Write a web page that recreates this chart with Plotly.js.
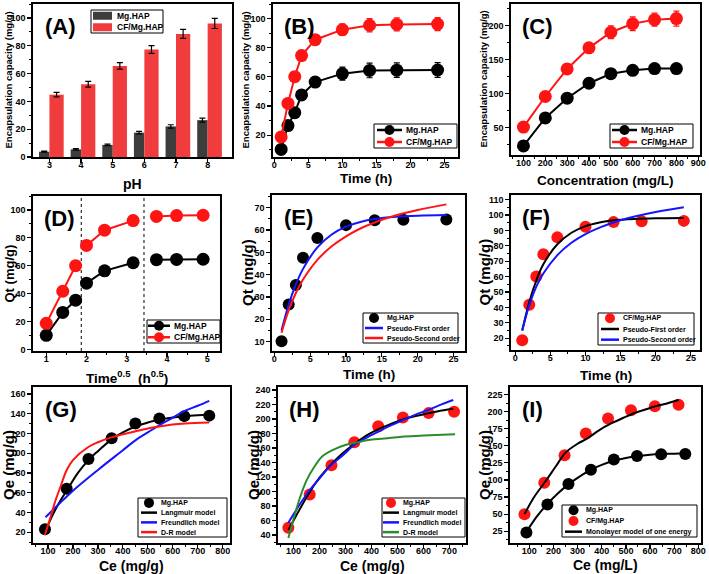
<!DOCTYPE html>
<html><head><meta charset="utf-8">
<script src="https://cdn.plot.ly/plotly-3.0.1.min.js"></script>
<style>html,body{margin:0;padding:0;background:#fff}#chart{width:709px;height:574px}</style>
</head><body><div id="chart"></div>
<script>
// ---------- DATA ----------
// (A) pH effect
const pH = [3, 4, 5, 6, 7, 8];
const encMgPH = [3.8, 5.5, 8.7, 17.5, 22.0, 26.5];
const encMgPHErr = [0.4, 0.5, 0.5, 0.9, 1.2, 1.4];
const encCFPH = [44.8, 52.3, 65.5, 77.3, 88.5, 96.0];
const encCFPHErr = [1.6, 2.0, 2.3, 2.8, 3.2, 3.6];
// (B) contact time
const time = [1, 2, 3, 4, 6, 10, 14, 18, 24];
const qtMg = [10.2, 26.6, 35.4, 47.6, 56.4, 62.2, 64.4, 64.6, 64.7];
const qtMgErr = [1.2, 1.8, 2.0, 2.5, 3.0, 4.5, 5.0, 5.0, 5.0];
const qtCF = [18.8, 41.8, 60.1, 74.6, 85.5, 92.4, 95.4, 96.0, 96.2];
const qtCFErr = [1.2, 1.8, 2.2, 3.0, 3.5, 4.0, 4.5, 4.5, 4.5];
// (C) concentration
const conc = [100, 200, 300, 400, 500, 600, 700, 800];
const ecMg = [23.4, 64.5, 93.5, 115.5, 129.5, 134.5, 137, 137];
const ecMgErr = [2, 3, 3.5, 4, 4, 4, 4, 4];
const ecCF = [51, 96, 136.5, 167.5, 190.5, 203, 209, 210.5];
const ecCFErr = [2.5, 3.5, 4.5, 6, 9.5, 10, 9.5, 11];
// (D) intraparticle diffusion
const sqrtTime = [1, 1.41, 1.73, 2, 2.45, 3.16, 3.74, 4.24, 4.90];
const stage = [0, 0, 0, 1, 1, 1, 2, 2, 2];
const stageBounds = [1.87, 3.43];
// (E) kinetic fits Mg.HAP
const fitT = [1, 2, 3, 4, 6, 8, 10, 12, 14, 17, 20, 24];
const pfoMg = [15, 26.6, 35.6, 42.6, 52.2, 58, 61.5, 63.6, 64.9, 65.9, 66.4, 66.7];
const psoMg = [14, 24.1, 31.8, 37.8, 46.6, 52.7, 57.2, 60.7, 63.4, 66.6, 69, 71.5];
// (F) kinetic fits CF/Mg.HAP
const pfoCF = [25, 43.5, 57.5, 68, 81, 88.5, 92.8, 95.2, 96.6, 97.5, 97.9, 98.1];
const psoCF = [25, 41.5, 53.5, 62, 74, 82, 87.6, 91.8, 95.2, 99, 102, 105];
// isotherm points
const ceMg = [88, 175, 262, 355, 450, 546, 646, 746];
const qeMg = [23, 64, 94, 115, 130, 135, 137.5, 138];
const ceCF = [80, 162, 246, 334, 426, 521, 620, 718];
const qeCF = [50, 96, 136, 168, 190, 202, 208, 210];
// (G) model curves Mg.HAP
const gLangX = [88, 120, 150, 175, 220, 262, 300, 355, 400, 450, 500, 546, 600, 646, 700, 746];
const gLangY = [20, 38, 52, 62, 80, 93, 102, 114, 121, 127, 131, 134, 136, 137.5, 138.5, 139];
const gFreuX = [90, 150, 200, 300, 400, 450, 500, 550, 600, 650, 700, 746];
const gFreuY = [35, 50, 62, 83, 103, 113, 121, 129, 136, 143, 148, 153];
const gDRX = [87, 110, 130, 150, 175, 200, 260, 300, 354, 400, 448, 500, 546, 600, 650, 746];
const gDRY = [17, 35, 52, 66, 83, 93, 106, 111, 116, 119, 122, 125, 127, 129, 130, 131];
// (H) model curves
const hLangX = [80, 100, 158, 200, 241, 290, 333, 380, 427, 475, 523, 570, 623, 670, 715];
const hLangY = [47, 60, 97, 119, 136, 153, 165, 177, 186, 193, 199.5, 204, 208, 211.5, 214];
const hFreuX = [80, 120, 158, 200, 241, 290, 333, 380, 427, 475, 523, 570, 623, 670, 715];
const hFreuY = [57, 80, 100, 118, 135, 150, 164, 174, 182.5, 191, 198.6, 206, 213, 220, 226];
const hDRX = [80, 100, 125, 151, 180, 209, 250, 299, 350, 388, 450, 517, 600, 722];
const hDRY = [36, 62, 92, 116, 134, 148, 157, 164, 168, 171, 173, 175.6, 177, 179];
// (I) monolayer model
const iMgX = [88, 130, 175, 220, 262, 300, 355, 400, 450, 500, 548, 600, 645, 700, 748];
const iMgY = [24, 46, 65, 81, 93.5, 103, 115, 122, 128, 132, 135, 137, 138, 138.5, 139];
const iCFX = [80, 120, 165, 210, 250, 300, 337, 390, 441, 490, 526, 580, 624, 670, 718];
const iCFY = [50, 75, 97, 120, 140, 153, 160, 173, 183, 191, 196.5, 203, 208, 212, 217];

// ---------- STYLE ----------
const W = 709, H = 574;
const FONT = '"Liberation Sans", Arial, sans-serif';
const RED = '#ff1414', BLUE = '#1414ff', GREEN = '#2a8c2a', GREY = '#3d3d3d', BARRED = '#f03c3c';
const px = v => v / W, py = v => 1 - v / H;

function dom(x0, x1, y0, y1) { return {x: [px(x0), px(x1)], y: [py(y1), py(y0)], l: x0, r: x1, t: y0, b: y1}; }
const P = {
  A: dom(33, 232, 4, 157), B: dom(273, 458, 4, 157), C: dom(511, 700, 4, 155),
  D: dom(33, 220, 196, 351), E: dom(272, 465, 195, 351), F: dom(511, 700, 195, 350),
  G: dom(33, 230, 387, 543), H: dom(278, 466, 387, 543), I: dom(510, 701, 387, 543)
};
function axis(d, isX, range, dtick, mdtick, anchor, extra) {
  const a = {
    domain: isX ? d.x : d.y, range: range, dtick: dtick, ticks: 'outside', ticklen: 4, tickwidth: 1.2, tickcolor: '#000',
    showline: true, mirror: true, linewidth: 1.6, linecolor: '#000', showgrid: false, zeroline: false,
    tickfont: {family: FONT, size: 9, color: '#000', weight: 'bold'}, ticklabelstandoff: isX ? -5 : 0,
    anchor: anchor, automargin: false
  };
  if (mdtick) a.minor = {ticks: 'outside', ticklen: 2.5, dtick: mdtick, tickwidth: 1, tickcolor: '#000'};
  return Object.assign(a, extra || {});
}
function err(arr, color) { return {type: 'data', array: arr, visible: true, color: color, thickness: 1.2, width: 3}; }
function withGaps(xs, ys, groups) {
  const X = [], Y = [];
  xs.forEach((x, i) => {
    if (i > 0 && groups[i] !== groups[i - 1]) { X.push(null); Y.push(null); }
    X.push(x); Y.push(ys[i]);
  });
  return [X, Y];
}

const traces = [];
const sc = (o) => Object.assign({type: 'scatter', showlegend: false}, o);
// (A)
traces.push({type: 'bar', x: pH, y: encMgPH, width: 0.33, offset: -0.33, name: 'Mg.HAP', showlegend: false,
  marker: {color: GREY}, error_y: err(encMgPHErr, '#000'), xaxis: 'x', yaxis: 'y'});
traces.push({type: 'bar', x: pH, y: encCFPH, width: 0.45, offset: 0, name: 'CF/Mg.HAP', showlegend: false,
  marker: {color: BARRED}, error_y: err(encCFPHErr, '#000'), xaxis: 'x', yaxis: 'y'});
// (B)
traces.push(sc({mode: 'lines+markers', x: time, y: qtMg, name: 'Mg.HAP', line: {color: '#000', width: 2},
  marker: {color: '#000', size: 13}, error_y: err(qtMgErr, '#000'), xaxis: 'x2', yaxis: 'y2'}));
traces.push(sc({mode: 'lines+markers', x: time, y: qtCF, name: 'CF/Mg.HAP', line: {color: RED, width: 2},
  marker: {color: RED, size: 13}, error_y: err(qtCFErr, RED), xaxis: 'x2', yaxis: 'y2'}));
// (C)
traces.push(sc({mode: 'lines+markers', x: conc, y: ecMg, name: 'Mg.HAP', line: {color: '#000', width: 2},
  marker: {color: '#000', size: 13}, error_y: err(ecMgErr, '#000'), xaxis: 'x3', yaxis: 'y3'}));
traces.push(sc({mode: 'lines+markers', x: conc, y: ecCF, name: 'CF/Mg.HAP', line: {color: RED, width: 2},
  marker: {color: RED, size: 13}, error_y: err(ecCFErr, RED), xaxis: 'x3', yaxis: 'y3'}));
// (D)
const dMg = withGaps(sqrtTime, qtMg, stage), dCF = withGaps(sqrtTime, qtCF, stage);
traces.push(sc({mode: 'lines+markers', x: dMg[0], y: dMg[1], name: 'Mg.HAP', connectgaps: false,
  line: {color: '#000', width: 2}, marker: {color: '#000', size: 13}, xaxis: 'x4', yaxis: 'y4'}));
traces.push(sc({mode: 'lines+markers', x: dCF[0], y: dCF[1], name: 'CF/Mg.HAP', connectgaps: false,
  line: {color: RED, width: 2}, marker: {color: RED, size: 13}, xaxis: 'x4', yaxis: 'y4'}));
// (E)
traces.push(sc({mode: 'markers', x: time, y: qtMg, name: 'Mg.HAP', marker: {color: '#000', size: 12}, xaxis: 'x5', yaxis: 'y5'}));
traces.push(sc({mode: 'lines', x: fitT, y: pfoMg, name: 'Pseudo-First order', line: {color: BLUE, width: 2, shape: 'spline'}, xaxis: 'x5', yaxis: 'y5'}));
traces.push(sc({mode: 'lines', x: fitT, y: psoMg, name: 'Pseudo-Second order', line: {color: RED, width: 2, shape: 'spline'}, xaxis: 'x5', yaxis: 'y5'}));
// (F)
traces.push(sc({mode: 'markers', x: time, y: qtCF, name: 'CF/Mg.HAP', marker: {color: RED, size: 12}, xaxis: 'x6', yaxis: 'y6'}));
traces.push(sc({mode: 'lines', x: fitT, y: pfoCF, name: 'Pseudo-First order', line: {color: '#000', width: 2, shape: 'spline'}, xaxis: 'x6', yaxis: 'y6'}));
traces.push(sc({mode: 'lines', x: fitT, y: psoCF, name: 'Pseudo-Second order', line: {color: BLUE, width: 2, shape: 'spline'}, xaxis: 'x6', yaxis: 'y6'}));
// (G)
traces.push(sc({mode: 'markers', x: ceMg, y: qeMg, name: 'Mg.HAP', marker: {color: '#000', size: 12}, xaxis: 'x7', yaxis: 'y7'}));
traces.push(sc({mode: 'lines', x: gLangX, y: gLangY, name: 'Langmuir model', line: {color: '#000', width: 2, shape: 'spline'}, xaxis: 'x7', yaxis: 'y7'}));
traces.push(sc({mode: 'lines', x: gFreuX, y: gFreuY, name: 'Freundlich model', line: {color: BLUE, width: 2, shape: 'spline'}, xaxis: 'x7', yaxis: 'y7'}));
traces.push(sc({mode: 'lines', x: gDRX, y: gDRY, name: 'D-R model', line: {color: RED, width: 2, shape: 'spline'}, xaxis: 'x7', yaxis: 'y7'}));
// (H)
traces.push(sc({mode: 'markers', x: ceCF, y: qeCF, name: 'Mg.HAP', marker: {color: RED, size: 12}, xaxis: 'x8', yaxis: 'y8'}));
traces.push(sc({mode: 'lines', x: hLangX, y: hLangY, name: 'Langmuir model', line: {color: '#000', width: 2, shape: 'spline'}, xaxis: 'x8', yaxis: 'y8'}));
traces.push(sc({mode: 'lines', x: hFreuX, y: hFreuY, name: 'Freundlich model', line: {color: BLUE, width: 2, shape: 'spline'}, xaxis: 'x8', yaxis: 'y8'}));
traces.push(sc({mode: 'lines', x: hDRX, y: hDRY, name: 'D-R model', line: {color: GREEN, width: 2, shape: 'spline'}, xaxis: 'x8', yaxis: 'y8'}));
// (I)
traces.push(sc({mode: 'markers', x: ceMg, y: qeMg, name: 'Mg.HAP', marker: {color: '#000', size: 12}, xaxis: 'x9', yaxis: 'y9'}));
traces.push(sc({mode: 'markers', x: ceCF, y: qeCF, name: 'CF/Mg.HAP', marker: {color: RED, size: 12}, xaxis: 'x9', yaxis: 'y9'}));
traces.push(sc({mode: 'lines', x: iMgX, y: iMgY, name: 'Monolayer model of one energy', line: {color: '#000', width: 2, shape: 'spline'}, xaxis: 'x9', yaxis: 'y9'}));
traces.push(sc({mode: 'lines', x: iCFX, y: iCFY, name: 'Monolayer model of one energy', line: {color: '#000', width: 2, shape: 'spline'}, xaxis: 'x9', yaxis: 'y9'}));

// ---------- LEGENDS (drawn as boxes) ----------
const shapes = [], annotations = [];
function legendBox(box, lineX0, lineX1, textX, fs, entries) {
  shapes.push({type: 'rect', xref: 'paper', yref: 'paper', x0: px(box[0]), x1: px(box[2]), y0: py(box[3]), y1: py(box[1]),
    line: {color: '#000', width: 1}, fillcolor: '#fff', layer: 'above'});
  const rowH = (box[3] - box[1]) / entries.length;
  entries.forEach((e, i) => {
    const cy = box[1] + rowH * (i + 0.5), cx = (lineX0 + lineX1) / 2;
    if (e.kind === 'square') {
      shapes.push({type: 'rect', xref: 'paper', yref: 'paper', x0: px(lineX0), x1: px(lineX1), y0: py(cy + 4), y1: py(cy - 4),
        line: {width: 0}, fillcolor: e.color, layer: 'above'});
    }
    if (e.kind === 'line' || e.kind === 'linemarker') {
      shapes.push({type: 'line', xref: 'paper', yref: 'paper', x0: px(lineX0), x1: px(lineX1), y0: py(cy), y1: py(cy),
        line: {color: e.color, width: 2.5}, layer: 'above'});
    }
    if (e.kind === 'marker' || e.kind === 'linemarker') {
      const r = 5;
      shapes.push({type: 'circle', xref: 'paper', yref: 'paper', x0: px(cx - r), x1: px(cx + r), y0: py(cy + r), y1: py(cy - r),
        line: {width: 0}, fillcolor: e.color, layer: 'above'});
    }
    annotations.push({text: e.label, xref: 'paper', yref: 'paper', x: px(textX), y: py(cy), xanchor: 'left', yanchor: 'middle',
      showarrow: false, font: {family: FONT, size: fs, color: '#000', weight: 'bold'}});
  });
}
legendBox([91, 10, 163, 33], 93, 112, 115, 8.5, [
  {label: 'Mg.HAP', color: GREY, kind: 'square'}, {label: 'CF/Mg.HAP', color: BARRED, kind: 'square'}]);
legendBox([374, 124, 457, 148], 377, 402, 404, 8.5, [
  {label: 'Mg.HAP', color: '#000', kind: 'linemarker'}, {label: 'CF/Mg.HAP', color: RED, kind: 'linemarker'}]);
legendBox([610, 124, 693, 148], 612, 637, 639, 8.5, [
  {label: 'Mg.HAP', color: '#000', kind: 'linemarker'}, {label: 'CF/Mg.HAP', color: RED, kind: 'linemarker'}]);
legendBox([147, 320, 220, 343], 148, 170, 172, 8.5, [
  {label: 'Mg.HAP', color: '#000', kind: 'linemarker'}, {label: 'CF/Mg.HAP', color: RED, kind: 'linemarker'}]);
legendBox([363, 313, 458, 343], 365, 383, 385, 7, [
  {label: 'Mg.HAP', color: '#000', kind: 'marker'}, {label: 'Pseudo-First order', color: BLUE, kind: 'line'},
  {label: 'Pseudo-Second order', color: RED, kind: 'line'}]);
legendBox([598, 313, 694, 345], 601, 619, 621, 7, [
  {label: 'CF/Mg.HAP', color: RED, kind: 'marker'}, {label: 'Pseudo-First order', color: '#000', kind: 'line'},
  {label: 'Pseudo-Second order', color: BLUE, kind: 'line'}]);
legendBox([138, 498, 227, 537], 141, 157, 159, 7, [
  {label: 'Mg.HAP', color: '#000', kind: 'marker'}, {label: 'Langmuir model', color: '#000', kind: 'line'},
  {label: 'Freundlich model', color: BLUE, kind: 'line'}, {label: 'D-R model', color: RED, kind: 'line'}]);
legendBox([382, 498, 465, 537], 383, 399, 401, 7, [
  {label: 'Mg.HAP', color: RED, kind: 'marker'}, {label: 'Langmuir model', color: '#000', kind: 'line'},
  {label: 'Freundlich model', color: BLUE, kind: 'line'}, {label: 'D-R model', color: GREEN, kind: 'line'}]);
legendBox([562, 505, 697, 537], 565, 582, 584, 7, [
  {label: 'Mg.HAP', color: '#000', kind: 'marker'}, {label: 'CF/Mg.HAP', color: RED, kind: 'marker'},
  {label: 'Monolayer model of one energy', color: '#000', kind: 'line'}]);

// D stage boundaries
stageBounds.forEach(b => shapes.push({type: 'line', xref: 'x4', yref: 'y4 domain', x0: b, x1: b, y0: 0, y1: 1,
  line: {color: '#000', width: 1, dash: 'dot'}, layer: 'below'}));

// panel labels
[['A', ''], ['B', '2'], ['C', '3'], ['D', '4'], ['E', '5'], ['F', '6'], ['G', '7'], ['H', '8'], ['I', '9']].forEach(([lab, n]) =>
  annotations.push({text: '(' + lab + ')', xref: 'x' + n + ' domain', yref: 'y' + n + ' domain', x: 0.05, y: 0.95,
    xanchor: 'left', yanchor: 'top', showarrow: false, font: {family: FONT, size: 22, color: '#000', weight: 'bold'}}));

// axis titles
function xTitle(d, text, cy, fs) {
  annotations.push({text: text, xref: 'paper', yref: 'paper', x: px((d.l + d.r) / 2), y: py(cy), xanchor: 'center', yanchor: 'middle',
    showarrow: false, font: {family: FONT, size: fs, color: '#000', weight: 'bold'}});
}
function yTitle(d, text, cx, fs) {
  annotations.push({text: text, xref: 'paper', yref: 'paper', x: px(cx), y: py((d.t + d.b) / 2), xanchor: 'center', yanchor: 'middle',
    textangle: -90, showarrow: false, font: {family: FONT, size: fs, color: '#000', weight: 'bold'}});
}
const ENC = 'Encapsulation capacity (mg/g)';
xTitle(P.A, 'pH', 184, 14); yTitle(P.A, ENC, 8, 9.5);
xTitle(P.B, 'Time (h)', 178, 13.5); yTitle(P.B, ENC, 245, 9.5);
xTitle(P.C, 'Concentration (mg/L)', 180, 13.5); yTitle(P.C, ENC, 483, 9.5);
xTitle(P.D, 'Time<sup>0.5</sup>  (h<sup>0.5</sup>)', 377, 13.5); yTitle(P.D, 'Qt (mg/g)', 9, 13);
xTitle(P.E, 'Time (h)', 374, 13.5); yTitle(P.E, 'Qt (mg/g)', 247, 15);
xTitle(P.F, 'Time (h)', 375, 13.5); yTitle(P.F, 'Qt (mg/g)', 484, 15);
xTitle(P.G, 'Ce (mg/g)', 566, 14); yTitle(P.G, 'Qe (mg/g)', 8, 15);
xTitle(P.H, 'Ce (mg/g)', 566, 14); yTitle(P.H, 'Qe (mg/g)', 253, 15);
xTitle(P.I, 'Ce (mg/L)', 565, 14); yTitle(P.I, 'Qe (mg/g)', 484, 15);

const layout = {
  width: W, height: H, margin: {l: 0, r: 0, t: 0, b: 0}, paper_bgcolor: '#fff', plot_bgcolor: '#fff',
  font: {family: FONT, color: '#000'}, barmode: 'overlay', showlegend: false,
  xaxis: axis(P.A, true, [2.48, 8.77], 1, null, 'y', {tickvals: pH}),
  yaxis: axis(P.A, false, [0, 110], 20, 10, 'x'),
  xaxis2: axis(P.B, true, [-0.2, 27], 5, 2.5, 'y2'),
  yaxis2: axis(P.B, false, [5, 110], 20, 10, 'x2'),
  xaxis3: axis(P.C, true, [43, 908], 100, 50, 'y3'),
  yaxis3: axis(P.C, false, [10, 232], 50, 25, 'x3'),
  xaxis4: axis(P.D, true, [0.67, 5.32], 1, 0.5, 'y4'),
  yaxis4: axis(P.D, false, [-1, 110], 20, 10, 'x4'),
  xaxis5: axis(P.E, true, [-0.33, 26.6], 5, 2.5, 'y5'),
  yaxis5: axis(P.E, false, [5.8, 75.7], 10, 5, 'x5'),
  xaxis6: axis(P.F, true, [-0.6, 26.3], 5, 2.5, 'y6'),
  yaxis6: axis(P.F, false, [12.4, 113], 10, 5, 'x6'),
  xaxis7: axis(P.G, true, [40, 829], 100, 50, 'y7'),
  yaxis7: axis(P.G, false, [9, 167], 20, 10, 'x7'),
  xaxis8: axis(P.H, true, [40, 764], 100, 50, 'y8'),
  yaxis8: axis(P.H, false, [29, 244], 20, 10, 'x8'),
  xaxis9: axis(P.I, true, [20, 811], 100, 50, 'y9'),
  yaxis9: axis(P.I, false, [7.8, 236], 25, 12.5, 'x9'),
  shapes: shapes, annotations: annotations
};
Plotly.newPlot('chart', traces, layout, {staticPlot: true, displayModeBar: false});
</script>
</body></html>
